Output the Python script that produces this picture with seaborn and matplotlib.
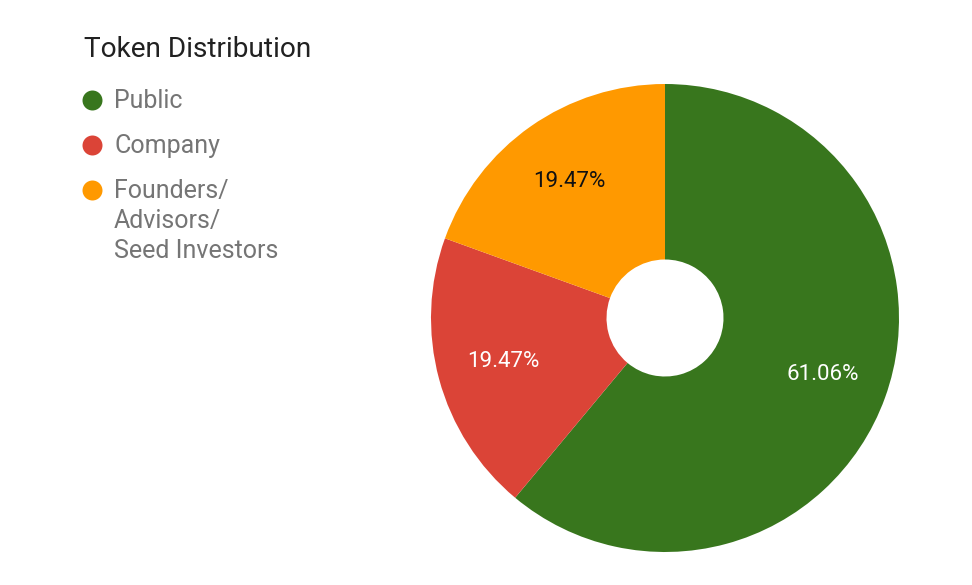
import matplotlib
matplotlib.use("Agg")
import matplotlib.pyplot as plt
import seaborn as sns

sns.set_theme(style="white")
plt.rcParams['font.family'] = ['Roboto', 'DejaVu Sans']

# Data
title = "Token Distribution"
categories = ["Public", "Company", "Founders/\nAdvisors/\nSeed Investors"]
values = [61.06, 19.47, 19.47]
colors = ["#38761d", "#db4437", "#ff9900"]
label_colors = ["#ffffff", "#ffffff", "#111111"]

W, H = 972, 585
fig = plt.figure(figsize=(W / 100, H / 100), dpi=100)
fig.patch.set_facecolor("white")

# Pie axes
cx, cy, r = 665, 318, 234
ax = fig.add_axes([(cx - r) / W, (H - cy - r) / H, 2 * r / W, 2 * r / H])
palette = sns.color_palette(colors)
wedges, texts = ax.pie(values, colors=palette, startangle=90, counterclock=False,
                       radius=1.0, labels=[f"{v:.2f}%" for v in values],
                       labeldistance=0.715,
                       wedgeprops=dict(width=0.75, linewidth=0),
                       textprops=dict(fontsize=16))
for t, c in zip(texts, label_colors):
    t.set_color(c)
    t.set_ha("center")
    t.set_va("center")
ax.set_xlim(-1, 1)
ax.set_ylim(-1, 1)
ax.axis("off")

# Legend (manual, pixel coords)
lax = fig.add_axes([0, 0, 1, 1])
lax.set_xlim(0, W)
lax.set_ylim(H, 0)
lax.axis("off")
lax.text(84, 57, title, fontsize=20.2, color="#212121", va="baseline", ha="left")
entry_y = [100, 145, 190]
line_step = 30
for cat, col, y in zip(categories, colors, entry_y):
    lax.scatter([92], [y], s=207, color=col, linewidths=0)
    for i, line in enumerate(cat.split("\n")):
        lax.text(114, y + 8 + i * line_step, line, fontsize=18, color="#757575",
                 va="baseline", ha="left")

fig.savefig("out.png", dpi=100, facecolor="white")
